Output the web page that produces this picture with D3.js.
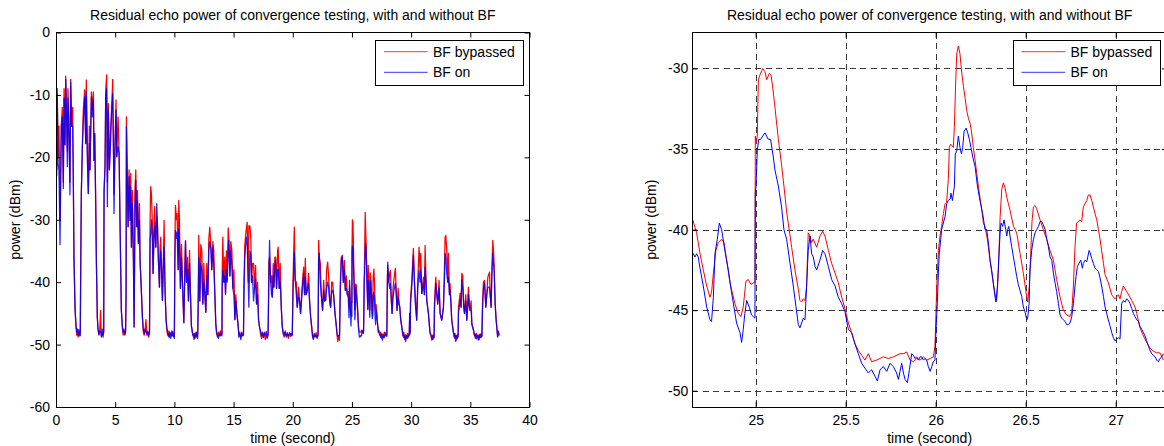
<!DOCTYPE html>
<meta charset="utf-8">
<head>
<title>Residual echo power of convergence testing</title>
<script src="https://d3js.org/d3.v7.min.js"></script>
<style>
  body { margin: 0; background: #ffffff; }
  text { font-family: "Liberation Sans", Arial, Helvetica, sans-serif; }
</style>
</head>
<body>
<svg width="1164" height="446"></svg>
<script>

// ---------- data ----------
var titleText = "Residual echo power of convergence testing, with and without BF";
var seriesNames = ["BF bypassed", "BF on"];
var xLabel = "time (second)";
var yLabel = "power (dBm)";

var leftXTicks = [0, 5, 10, 15, 20, 25, 30, 35, 40];
var leftYTicks = [0, -10, -20, -30, -40, -50, -60];
var rightXTicks = [25, 25.5, 26, 26.5, 27];
var rightYTicks = [-30, -35, -40, -45, -50];

// whole recording, one line per burst / quiet gap
var leftTime = [
  0, 0.03, 0.06, 0.11, 0.17, 0.25, 0.34, 0.45, 0.53, 0.62, 0.68, 0.76, 0.82, 0.90, 0.96, 1.01, 1.10, 1.18, 1.24, 1.32, 1.41, 1.47, 1.52, 1.61, 1.69,
  1.75, 1.81, 1.87, 1.93, 1.99, 2.05,
  2.09, 2.14, 2.23, 2.31, 2.42, 2.51, 2.56, 2.65, 2.73, 2.82, 2.87, 2.99, 3.07, 3.16, 3.21, 3.27, 3.35, 3.41, 3.49,
  3.55, 3.62, 3.69, 3.77, 3.83, 3.90, 3.97, 4.03,
  4.06, 4.14, 4.20, 4.28, 4.34, 4.42, 4.51, 4.62, 4.71, 4.79, 4.85, 4.90, 4.99, 5.07, 5.13, 5.24, 5.33, 5.41, 5.52, 5.61,
  5.67, 5.74, 5.81, 5.88,
  5.92, 5.95, 6.00, 6.09, 6.17, 6.26, 6.31, 6.37, 6.45, 6.54, 6.60, 6.68, 6.74, 6.82, 6.88, 6.96, 7.05, 7.10, 7.22, 7.30,
  7.38, 7.45, 7.52, 7.60, 7.68, 7.75, 7.82, 7.90,
  7.95, 8.00, 8.06, 8.15, 8.20, 8.29, 8.34, 8.43, 8.51, 8.57, 8.65, 8.74, 8.79, 8.85, 8.91, 8.99, 9.08, 9.13, 9.22, 9.30,
  9.38, 9.46, 9.54, 9.62, 9.70, 9.78, 9.86, 9.94, 10.00,
  10.04, 10.09, 10.18, 10.23, 10.32, 10.37, 10.43, 10.51, 10.60, 10.68, 10.80, 10.88, 10.94, 11.02, 11.11, 11.19, 11.28, 11.36, 11.44,
  11.50, 11.58, 11.66, 11.74, 11.82, 11.90, 11.97,
  12.01, 12.06, 12.15, 12.23, 12.32, 12.40, 12.49, 12.57, 12.66, 12.74, 12.83, 12.91, 12.99, 13.08, 13.16, 13.25, 13.33, 13.42, 13.50,
  13.56, 13.64, 13.72, 13.80, 13.88, 13.96, 14.02,
  14.04, 14.09, 14.18, 14.26, 14.32, 14.40, 14.46, 14.55, 14.60, 14.69, 14.77, 14.86, 14.94, 15.03, 15.11, 15.19, 15.28, 15.39,
  15.45, 15.53, 15.61, 15.69, 15.77, 15.84,
  15.87, 15.95, 16.07, 16.15, 16.24, 16.29, 16.38, 16.46, 16.52, 16.60, 16.69, 16.77, 16.86, 16.94, 17.03, 17.11, 17.20,
  17.28, 17.36, 17.44, 17.52, 17.60, 17.68, 17.76, 17.84, 17.92,
  17.98, 18.04, 18.13, 18.21, 18.27, 18.35, 18.41, 18.49, 18.55, 18.63, 18.72, 18.77, 18.86, 18.94, 19.03, 19.11,
  19.18, 19.27, 19.36, 19.45, 19.54, 19.63, 19.72, 19.81, 19.90, 19.96,
  20.02, 20.13, 20.21, 20.30, 20.38, 20.49, 20.58, 20.66, 20.78, 20.92, 21.00, 21.06, 21.14, 21.23, 21.34, 21.42, 21.51, 21.59,
  21.66, 21.74, 21.82, 21.90, 21.98, 22.06, 22.14,
  22.19, 22.24, 22.33, 22.41, 22.52, 22.61, 22.69, 22.78, 22.86, 22.95, 23.03, 23.12, 23.20, 23.29, 23.37, 23.45, 23.57, 23.68,
  23.74, 23.81, 23.88, 23.95,
  24.02, 24.10, 24.19, 24.27, 24.36, 24.44, 24.53, 24.61, 24.69, 24.75, 24.80, 24.86, 24.92, 24.96, 24.995, 25.01, 25.04, 25.09, 25.13, 25.18, 25.25, 25.28, 25.30, 25.36, 25.42, 25.48, 25.53, 25.57,
  25.63, 25.69, 25.75, 25.81, 25.87, 25.93, 25.98,
  26.01, 26.04, 26.08, 26.12, 26.16, 26.20, 26.25, 26.30, 26.34, 26.37, 26.42, 26.47, 26.51, 26.55, 26.60, 26.66, 26.72, 26.76, 26.79, 26.85, 26.90, 26.96, 27.00, 27.04, 27.10, 27.16, 27.22, 27.27,
  27.34, 27.42, 27.50, 27.58, 27.66, 27.74, 27.82, 27.90, 27.95,
  27.99, 28.02, 28.11, 28.19, 28.25, 28.33, 28.39, 28.47, 28.58, 28.67, 28.75, 28.81, 28.90, 28.95, 29.04, 29.12, 29.23,
  29.30, 29.38, 29.46, 29.54, 29.62, 29.70, 29.77, 29.84, 29.88, 29.92,
  29.95, 30.05, 30.19, 30.28, 30.33, 30.47, 30.56, 30.67, 30.76, 30.81, 30.90, 31.04, 31.12, 31.18, 31.26, 31.32, 31.46, 31.60,
  31.67, 31.74, 31.81, 31.88, 31.94,
  31.97, 32.08, 32.17, 32.25, 32.36, 32.45, 32.59, 32.73, 32.81, 32.87, 32.93, 33.01, 33.10, 33.15, 33.24, 33.29, 33.38, 33.43, 33.57,
  33.63, 33.70, 33.77, 33.84, 33.91, 33.97,
  34.00, 34.14, 34.22, 34.28, 34.36, 34.45, 34.51, 34.62, 34.70, 34.79, 34.84, 34.93, 34.98, 35.07, 35.13, 35.27,
  35.35, 35.43, 35.51, 35.59, 35.67, 35.75, 35.83, 35.91, 35.98,
  36.03, 36.11, 36.20, 36.31, 36.39, 36.48, 36.62, 36.68, 36.76, 36.82, 36.90, 36.96, 37.01, 37.10, 37.18, 37.24,
  37.30, 37.36, 37.42, 37.45
];

var leftRed = [
  -57, -8, -22, -9, -20, -15, -30, -15, -12, -24, -9, -18, -7, -14, -19, -9, -16, -24, -7.5, -15, -12, -25, -36, -44, -47,
  -48.5, -47.8, -48.8, -48, -48.6, -48,
  -37, -25.8, -17.8, -12.4, -9.2, -17.8, -7.6, -19, -25.8, -15, -22, -9.5, -12.4, -9.5, -20.5, -16.2, -25.8, -36.5, -45.6,
  -47.5, -48.5, -48, -44.5, -48.8, -48, -48.5, -47.8,
  -25, -21.5, -9.2, -6.8, -24, -11.4, -22, -15.1, -11.9, -7.5, -17.8, -26, -17.8, -10.8, -19.9, -13.5, -19.4, -30.6, -44.5, -47.2,
  -48.5, -47.8, -48.5, -48,
  -42, -13.5, -20.5, -31.1, -22, -30.1, -22.6, -34.4, -25.3, -36.5, -47.2, -24.7, -22, -31.1, -25.3, -33.8, -27.4, -36.5, -41.8, -45.6,
  -48, -48.5, -47.8, -46, -48.5, -48, -48.8, -48.2,
  -30, -24.7, -25.8, -31.1, -38.6, -30.1, -27.9, -34.4, -29.5, -31.1, -36.5, -40.8, -34.4, -32.8, -37.6, -42.9, -35.4, -30.1, -41.8, -46.1,
  -48, -48.6, -47.8, -48.9, -48.2, -48.6, -47.9, -48.8, -48.3,
  -35, -27.7, -30, -29, -38, -26.9, -30, -41, -34, -40, -46.5, -38, -33.3, -40, -36, -43, -34.9, -42, -47,
  -48, -48.6, -48.2, -49, -48, -48.8, -48.3,
  -44, -32.5, -43, -34, -35, -43.5, -37, -42, -44.8, -37, -42, -33, -31.2, -34, -38, -33.5, -35, -42, -46.7,
  -48.2, -48.8, -48, -48.6, -47.8, -48.5, -48.2,
  -38.4, -32.8, -40, -36, -41.9, -35, -39.7, -31.3, -33, -39, -33.5, -35, -41, -38, -46, -42, -45, -47,
  -48.5, -48, -48.8, -48.2, -48.6, -48,
  -40.8, -34, -31.5, -30.4, -40, -31, -31, -33, -40, -37, -37, -41, -37.3, -43.5, -40, -46, -47.3,
  -48.3, -49, -48.2, -48.8, -48, -49.2, -48.4, -49, -48.5,
  -36.8, -36, -40, -39, -42.4, -37, -40.8, -36, -36, -41, -35, -34.4, -41, -37, -44, -47,
  -48.2, -48.8, -48, -48.6, -48.3, -49, -48.1, -48.7, -48.2, -48.5,
  -40, -31.2, -39.7, -40, -44, -40.8, -43, -45, -41, -37.6, -42, -36.2, -42, -41.3, -38.6, -43, -45.5, -47,
  -48.2, -49, -48.4, -48.8, -48.1, -48.9, -48.5,
  -33.3, -36, -37, -42, -44.5, -39.7, -43, -42.9, -38, -36.8, -39, -43, -44, -40, -40, -42, -45, -47,
  -48.5, -49.5, -48.8, -49.3,
  -40, -36, -35.7, -40, -36.5, -41.3, -39, -42, -41.5, -44, -40.6, -43.3, -45.4, -43.1, -43.3, -34.2, -30, -30.5, -34.5, -39.6, -44.4, -43.5, -40.3, -40.4, -42.1, -44.2, -46.4, -47.5,
  -48, -48, -48, -47.7, -48.2, -48, -47.9,
  -43.5, -39.2, -34.8, -28.8, -31.5, -34, -38.3, -41.8, -44.4, -37.3, -39, -41.5, -44.5, -38.5, -40, -42.3, -45.3, -44.5, -39.5, -37.9, -39.8, -43.5, -44.3, -43.6, -44.9, -46.7, -47.6, -48,
  -48.5, -48, -49, -48.3, -48.8, -48, -48.6, -48.2, -48.7,
  -40, -37.3, -40, -38.5, -38.1, -43, -45, -41, -39, -37.8, -42, -44.5, -41, -42.6, -44, -46, -47.4,
  -48.6, -48, -49.2, -48.4, -49, -48.2, -48.8, -48.3, -45, -48,
  -42.5, -40, -34.6, -40, -41.3, -46.1, -40, -34.4, -38, -35.4, -41.8, -39.2, -42, -34.1, -40, -42.9, -45, -48.2,
  -48.6, -49.3, -48.5, -49.1, -48.6,
  -43.5, -39.2, -42, -43.5, -39.7, -45, -46.1, -44, -38, -32.8, -32.5, -34.9, -40, -35.4, -42, -40.2, -44, -46.1, -48,
  -48.3, -49, -48.5, -49.2, -48.4, -48.8,
  -44, -41.8, -44, -38.6, -38.9, -44, -45, -42, -46.1, -43, -40.8, -44, -44.5, -43, -46.7, -47.7,
  -48.4, -49, -48.2, -48.8, -48.5, -49.2, -48.3, -48.9, -48.5,
  -43.5, -40, -39.7, -44, -42, -39.2, -38.4, -42, -44, -38, -33.3, -35, -37, -43.5, -46, -47.2,
  -48.5, -48, -48.6, -48.3
];

var leftBlue = [
  -55, -10, -23, -10, -21, -22, -34, -15, -13.5, -25, -10.5, -18, -7.5, -14, -21.5, -10.5, -17, -26, -8, -15, -15, -25, -36.5, -44.5, -47,
  -48, -47.5, -48.5, -47.6, -48.3, -48.6,
  -38, -25.8, -18.3, -14, -10.3, -17.8, -9.5, -20.5, -25.8, -17.8, -22, -10.3, -13.5, -10.8, -20.5, -16.2, -27.4, -36.5, -45.6,
  -47.5, -48.3, -47.8, -48, -48.6, -47.5, -48.8, -48,
  -26, -21.5, -10.3, -9, -27.9, -12.4, -22, -17.2, -11.9, -9.8, -17.8, -29, -17.8, -12.4, -19.9, -18.3, -19.4, -30.6, -44.5, -47.2,
  -48, -47.5, -48.3, -47.8,
  -42, -15.1, -20.5, -31.1, -23.1, -30.1, -24.7, -34.4, -27.4, -36.5, -47.2, -26.9, -23.7, -31.1, -26.9, -33.8, -30.1, -36.5, -41.8, -45.6,
  -47.6, -48.2, -47.5, -48, -48.3, -47.8, -48.5, -48,
  -33, -32.2, -30, -33.8, -38.6, -32.2, -31, -34.4, -27.4, -30.6, -36.5, -40.8, -36.5, -35, -37.6, -42.9, -36.5, -34.4, -41.8, -46.1,
  -47.5, -48.2, -48.8, -48, -49, -47.8, -48.6, -48.2, -49,
  -37, -31.7, -33, -32, -38, -31.5, -34, -41, -36, -40, -46.5, -39, -33.5, -40, -38, -43, -37, -42, -47,
  -47.6, -48.5, -49.2, -48.2, -48.8, -48, -49,
  -44, -36, -43, -37, -38, -43.5, -40, -42, -44.8, -39, -42, -35, -33.5, -34.5, -38, -34.5, -37.5, -42, -46.7,
  -47.8, -48.5, -49, -48.2, -48.6, -48, -48.6,
  -41, -38.1, -40, -39, -41.9, -38, -40, -35, -33.3, -39, -35, -37.5, -41, -42, -46, -43, -45, -47,
  -48.8, -48.3, -49.2, -48, -48.6, -48.4,
  -43, -36, -32.8, -34, -40, -44, -35, -35.5, -40, -39, -43, -41, -39.5, -43.5, -42, -46, -47.3,
  -47.8, -48.6, -48, -48.9, -48.2, -48.5, -47.9, -48.8, -48.2,
  -40, -33.3, -40, -42, -42.4, -39, -40.8, -37.5, -36.5, -41, -38, -38, -41, -40, -44, -47,
  -48, -48.5, -47.8, -48.8, -48.1, -48.6, -48.3, -48.2, -48.6, -48.4,
  -42, -35.2, -39.7, -42, -44, -42.4, -43, -45, -42, -38.6, -42, -39.2, -42, -41.3, -40.2, -43, -45.5, -47,
  -48.6, -49.2, -48.2, -48.7, -48.5, -49, -48.3,
  -36, -35.4, -40, -42, -44.5, -41.3, -43, -42.9, -41, -40, -40.8, -43, -44, -41.5, -41.3, -42, -45, -47,
  -48.2, -48.8, -48.5, -48.6,
  -41, -36.5, -36, -40, -38, -41.3, -41, -42, -42.4, -45.7, -39.7, -44, -47, -44.6, -45.5, -35, -34.2, -34.6, -37.5, -40.3, -46, -45, -40.8, -41.9, -43.1, -44.6, -46.4, -47.7,
  -48.8, -48.8, -48.5, -48.6, -47.7, -48, -48.2,
  -45, -40, -38.1, -35, -33.8, -34.6, -38.5, -41.9, -44.3, -39.7, -41.1, -43.8, -45.6, -40.2, -39.7, -43.3, -45.8, -45.3, -42.2, -41.6, -42.6, -45.8, -46.8, -44.4, -45.3, -46.5, -48, -47.7,
  -48.2, -48.8, -48.3, -49.3, -48.5, -48.9, -48.1, -48.6, -48.3,
  -41, -36.8, -40, -41, -40.2, -43, -45, -42.5, -41, -40.2, -42, -44.5, -42.5, -43.5, -44, -46, -47.4,
  -48.2, -48.9, -48.5, -49.5, -48.6, -49, -48.4, -48.6, -45, -48.3,
  -43.5, -41, -35.7, -40, -42.9, -46.1, -41, -38.1, -40, -38, -41.8, -40.2, -42, -37.6, -40, -42.9, -45, -48.2,
  -48.3, -48.8, -49.2, -48.5, -48.9,
  -44.5, -40.2, -42, -43.5, -41, -45, -46.1, -44, -40, -35.4, -36, -38.6, -40, -39.2, -42, -41.3, -44, -46.1, -48,
  -48.8, -48.2, -49.5, -48.6, -49, -48.3,
  -45, -42.9, -44, -39.7, -41, -44, -45, -43, -46.1, -44, -41.9, -44, -44.5, -44.5, -46.7, -47.7,
  -48.6, -48.3, -49.1, -48.5, -49.3, -48.4, -48.9, -48.3, -48.7,
  -44.5, -41, -40.2, -44, -42, -40.8, -40.8, -42, -44, -39, -35.4, -37, -38.1, -43.5, -46, -47.2,
  -48.8, -47.8, -48.3, -48.3
];

// zoomed window 24.65 s .. 27.3 s, [time, dBm]
var rightRed = [
  [24.648, -39.3], [24.672, -40.2], [24.691, -41.5], [24.709, -42.5], [24.728, -43.5], [24.746, -44.2], [24.755, -43.9],
  [24.765, -42.7], [24.779, -41.3], [24.792, -40.8], [24.811, -40.6], [24.824, -40.8], [24.839, -41.9], [24.857, -43.3],
  [24.885, -44.6], [24.903, -45.2], [24.918, -45.4], [24.931, -44.8], [24.946, -43.2], [24.959, -43.1], [24.974, -43.4],
  [24.987, -43.3], [24.996, -43.3], [24.998, -34.2], [25.002, -34.6], [25.009, -34.2], [25.015, -30.7], [25.024, -30.4],
  [25.039, -30.0], [25.052, -30.2], [25.061, -30.7], [25.076, -30.3], [25.085, -30.4], [25.094, -31.1], [25.107, -32.4],
  [25.126, -34.4], [25.144, -36.0], [25.157, -37.3], [25.172, -38.9], [25.181, -39.6], [25.200, -41.1], [25.218, -42.5],
  [25.237, -43.7], [25.246, -44.4], [25.255, -44.5], [25.265, -44.3], [25.274, -44.4], [25.283, -43.5], [25.292, -40.2],
  [25.302, -40.4], [25.311, -40.8], [25.320, -40.6], [25.339, -41.1], [25.357, -40.4], [25.372, -40.1], [25.385, -40.4],
  [25.404, -41.3], [25.422, -42.1], [25.441, -42.7], [25.459, -43.3], [25.478, -44.2], [25.496, -44.9], [25.515, -45.8],
  [25.533, -46.4], [25.552, -47.1], [25.570, -47.5], [25.589, -47.8], [25.607, -48.1], [25.626, -47.7], [25.644, -48.2],
  [25.672, -48.1], [25.691, -48.0], [25.709, -47.9], [25.737, -48.0], [25.765, -47.9], [25.802, -47.7], [25.821, -47.7],
  [25.839, -47.6], [25.858, -48.1], [25.876, -48.2], [25.895, -48.0], [25.913, -48.1], [25.932, -47.9], [25.950, -48.1],
  [25.969, -48.0], [25.987, -47.9], [25.996, -47.25], [26.006, -43.5], [26.015, -41.3], [26.024, -40.4], [26.033, -39.8],
  [26.043, -39.0], [26.052, -38.4], [26.061, -38.3], [26.070, -36.9], [26.076, -34.9], [26.083, -34.7], [26.091, -34.8],
  [26.098, -34.9], [26.104, -33.6], [26.111, -30.9], [26.117, -29.1], [26.126, -28.6], [26.135, -29.1], [26.145, -30.3],
  [26.154, -31.1], [26.163, -31.8], [26.172, -32.6], [26.182, -33.1], [26.191, -33.4], [26.200, -34.0], [26.209, -34.9],
  [26.219, -35.7], [26.228, -36.5], [26.237, -37.3], [26.246, -38.0], [26.256, -38.8], [26.265, -39.6], [26.274, -39.8],
  [26.287, -40.6], [26.302, -41.9], [26.317, -43.1], [26.330, -44.05], [26.339, -44.4], [26.348, -42.7], [26.358, -39.2],
  [26.367, -37.5], [26.376, -37.1], [26.385, -37.4], [26.395, -38.0], [26.404, -38.4], [26.413, -38.8], [26.432, -39.8],
  [26.441, -40.0], [26.450, -40.2], [26.469, -41.5], [26.487, -42.7], [26.502, -43.9], [26.511, -44.5], [26.520, -43.5],
  [26.528, -41.5], [26.535, -39.5], [26.543, -38.6], [26.552, -38.5], [26.561, -38.7], [26.580, -39.4], [26.598, -40.0],
  [26.617, -40.6], [26.635, -41.3], [26.654, -41.9], [26.672, -43.1], [26.691, -44.2], [26.709, -45.0], [26.728, -45.3],
  [26.746, -45.4], [26.756, -45.1], [26.765, -43.5], [26.774, -41.05], [26.783, -39.6], [26.802, -39.4], [26.811, -39.5],
  [26.820, -38.6], [26.839, -38.2], [26.848, -37.85], [26.857, -37.85], [26.867, -38.2], [26.876, -38.6], [26.885, -39.0],
  [26.895, -39.4], [26.904, -40.0], [26.913, -40.6], [26.922, -41.3], [26.932, -42.1], [26.941, -42.8], [26.959, -43.3],
  [26.978, -44.05], [26.996, -44.3], [27.015, -44.05], [27.024, -44.3], [27.033, -43.85], [27.043, -43.5], [27.061, -43.85],
  [27.080, -44.2], [27.089, -44.4], [27.107, -44.8], [27.117, -45.2], [27.135, -46.1], [27.154, -46.6], [27.172, -47.0],
  [27.191, -47.35], [27.209, -47.55], [27.228, -47.65], [27.246, -47.65], [27.265, -48.1]
];

var rightBlue = [
  [24.648, -41.4], [24.663, -41.7], [24.672, -41.5], [24.681, -41.7], [24.691, -42.4], [24.709, -43.5], [24.728, -44.8],
  [24.746, -45.6], [24.755, -45.7], [24.765, -44.2], [24.774, -41.5], [24.787, -40.6], [24.798, -39.6], [24.811, -40.0],
  [24.829, -41.3], [24.848, -42.5], [24.866, -43.9], [24.894, -45.8], [24.913, -46.4], [24.922, -47.0], [24.931, -46.2],
  [24.940, -45.2], [24.950, -44.4], [24.964, -44.8], [24.977, -45.3], [24.987, -45.4], [24.996, -45.5], [24.998, -37.75],
  [25.002, -37.3], [25.009, -35.1], [25.017, -34.4], [25.028, -34.4], [25.039, -34.2], [25.052, -34.0], [25.061, -34.2],
  [25.070, -34.4], [25.083, -34.4], [25.098, -35.5], [25.107, -36.3], [25.126, -37.3], [25.144, -38.6], [25.157, -40.0],
  [25.172, -40.6], [25.191, -42.1], [25.209, -43.5], [25.224, -44.8], [25.237, -45.9], [25.246, -46.1], [25.255, -45.8],
  [25.265, -45.5], [25.274, -45.6], [25.283, -43.5], [25.292, -41.3], [25.302, -40.4], [25.311, -41.5], [25.320, -41.7],
  [25.330, -42.3], [25.339, -42.5], [25.357, -41.9], [25.372, -41.3], [25.385, -41.5], [25.404, -42.3], [25.422, -43.1],
  [25.441, -43.5], [25.459, -44.2], [25.478, -44.6], [25.496, -45.1], [25.515, -46.2], [25.533, -46.4], [25.552, -47.1],
  [25.570, -47.7], [25.589, -48.3], [25.607, -48.6], [25.626, -48.9], [25.644, -48.7], [25.663, -49.1], [25.676, -49.4],
  [25.691, -48.7], [25.709, -48.5], [25.728, -48.8], [25.746, -48.3], [25.765, -48.5], [25.783, -48.9], [25.793, -49.3],
  [25.802, -48.8], [25.811, -48.3], [25.821, -48.9], [25.830, -49.3], [25.843, -49.5], [25.854, -48.7], [25.867, -47.7],
  [25.876, -47.8], [25.885, -48.0], [25.895, -47.9], [25.904, -48.1], [25.913, -47.9], [25.922, -47.9], [25.932, -48.1],
  [25.941, -48.0], [25.950, -48.1], [25.959, -48.5], [25.969, -48.8], [25.978, -48.5], [25.987, -48.2], [25.996, -48.1],
  [26.002, -46.2], [26.009, -44.6], [26.015, -42.7], [26.020, -41.5], [26.028, -40.6], [26.033, -40.0], [26.052, -39.2],
  [26.061, -38.4], [26.070, -38.2], [26.080, -38.1], [26.085, -37.75], [26.093, -38.2], [26.104, -37.3], [26.109, -35.3],
  [26.117, -35.1], [26.126, -34.2], [26.135, -34.9], [26.143, -35.3], [26.150, -34.9], [26.158, -33.9], [26.169, -33.7],
  [26.178, -34.0], [26.187, -34.4], [26.196, -34.9], [26.206, -35.5], [26.219, -36.1], [26.232, -37.3], [26.246, -38.2],
  [26.261, -39.0], [26.274, -40.0], [26.283, -40.0], [26.293, -40.8], [26.302, -41.9], [26.311, -42.5], [26.320, -43.3],
  [26.330, -44.2], [26.335, -44.5], [26.343, -43.5], [26.350, -41.9], [26.358, -40.2], [26.363, -39.6], [26.372, -39.8],
  [26.380, -39.4], [26.389, -40.0], [26.395, -40.4], [26.400, -40.0], [26.406, -39.8], [26.413, -40.4], [26.422, -41.05],
  [26.432, -41.7], [26.441, -42.3], [26.450, -42.9], [26.459, -43.4], [26.469, -43.8], [26.478, -44.15], [26.487, -44.8],
  [26.496, -45.1], [26.506, -45.6], [26.511, -45.5], [26.519, -44.6], [26.524, -42.5], [26.533, -41.3], [26.543, -40.6],
  [26.552, -40.2], [26.561, -40.0], [26.571, -39.8], [26.580, -39.5], [26.589, -39.5], [26.598, -39.7], [26.608, -40.0],
  [26.617, -40.6], [26.626, -41.05], [26.635, -41.7], [26.645, -41.9], [26.654, -42.7], [26.663, -43.3], [26.672, -43.85],
  [26.682, -44.6], [26.691, -45.3], [26.700, -45.5], [26.709, -45.6], [26.719, -45.7], [26.728, -45.9], [26.737, -45.9],
  [26.746, -45.8], [26.756, -45.4], [26.765, -44.6], [26.774, -43.5], [26.780, -42.9], [26.787, -42.3], [26.796, -42.1],
  [26.806, -41.9], [26.815, -42.4], [26.820, -42.1], [26.830, -41.9], [26.839, -42.0], [26.845, -41.7], [26.852, -41.3],
  [26.857, -41.4], [26.867, -41.8], [26.876, -42.1], [26.885, -42.4], [26.895, -42.5], [26.904, -42.6], [26.913, -43.0],
  [26.922, -43.5], [26.932, -44.15], [26.941, -44.8], [26.950, -45.2], [26.959, -45.6], [26.969, -46.0], [26.978, -46.4],
  [26.987, -46.7], [26.996, -46.9], [27.006, -46.8], [27.015, -46.7], [27.024, -46.8], [27.033, -44.6], [27.043, -44.4],
  [27.052, -44.5], [27.061, -44.3], [27.071, -44.4], [27.080, -44.6], [27.089, -44.9], [27.098, -45.2], [27.107, -45.4],
  [27.117, -45.6], [27.126, -45.7], [27.135, -46.0], [27.145, -46.2], [27.154, -46.4], [27.163, -46.6], [27.172, -46.9],
  [27.182, -47.25], [27.191, -47.5], [27.200, -47.7], [27.209, -47.8], [27.219, -47.9], [27.228, -48.1], [27.237, -48.2],
  [27.246, -48.0], [27.256, -47.9], [27.265, -47.7]
];

// ---------- drawing ----------
var svg = d3.select("svg");
var colors = ["#ff0000", "#0000ff"];
var fontSize = 14;

function drawPanel(p) {
  var x = d3.scaleLinear().domain(p.xDomain).range([p.left, p.right]);
  var y = d3.scaleLinear().domain(p.yDomain).range([p.bottom, p.top]);
  var g = svg.append("g");

  g.append("clipPath").attr("id", "clip-" + p.id)
    .append("rect")
    .attr("x", p.left).attr("y", p.top)
    .attr("width", p.right - p.left).attr("height", p.bottom - p.top);

  // dashed grid (right panel only)
  if (p.grid) {
    var grid = g.append("g")
      .attr("stroke", "#3a3a3a")
      .attr("stroke-width", 1)
      .attr("stroke-dasharray", "6,4.5")
      .attr("shape-rendering", "crispEdges");
    grid.selectAll("line.gx").data(p.xTicks).enter().append("line")
      .attr("x1", function(d) { return Math.round(x(d)) + 0.5; })
      .attr("x2", function(d) { return Math.round(x(d)) + 0.5; })
      .attr("y1", p.top).attr("y2", p.bottom);
    grid.selectAll("line.gy").data(p.yTicks).enter().append("line")
      .attr("y1", function(d) { return Math.round(y(d)) + 0.5; })
      .attr("y2", function(d) { return Math.round(y(d)) + 0.5; })
      .attr("x1", p.left).attr("x2", p.right);
  }

  // data
  var line = d3.line()
    .x(function(d) { return x(d[0]); })
    .y(function(d) { return y(d[1]); });

  var lines = g.append("g").attr("clip-path", "url(#clip-" + p.id + ")");
  p.series.forEach(function(s, i) {
    lines.append("path")
      .datum(s)
      .attr("fill", "none")
      .attr("stroke", colors[i])
      .attr("stroke-width", p.lineWidth)
      .attr("stroke-opacity", i == 1 ? p.blueOpacity : 1)
      .attr("stroke-linejoin", "round")
      .attr("d", line);
  });

  // axes, ticks pointing inwards on all four sides
  var fmt = function(d) { return String(d); };
  var axB = g.append("g").attr("transform", "translate(0," + p.bottom + ")")
    .call(d3.axisBottom(x).tickValues(p.xTicks).tickFormat(fmt).tickSizeInner(-5).tickSizeOuter(0).tickPadding(8));
  var axL = g.append("g").attr("transform", "translate(" + p.left + ",0)")
    .call(d3.axisLeft(y).tickValues(p.yTicks).tickFormat(fmt).tickSizeInner(-5).tickSizeOuter(0).tickPadding(p.yPad));
  var axT = g.append("g").attr("transform", "translate(0," + p.top + ")")
    .call(d3.axisTop(x).tickValues(p.xTicks).tickFormat("").tickSizeInner(-5).tickSizeOuter(0));
  var axR = g.append("g").attr("transform", "translate(" + p.right + ",0)")
    .call(d3.axisRight(y).tickValues(p.yTicks).tickFormat("").tickSizeInner(-5).tickSizeOuter(0));

  [axB, axL, axT, axR].forEach(function(a) {
    a.select(".domain").remove();
    a.attr("font-size", fontSize).attr("font-family", null);
    a.selectAll("text").attr("fill", "#000");
  });

  // box
  g.append("rect")
    .attr("x", p.left).attr("y", p.top)
    .attr("width", p.right - p.left).attr("height", p.bottom - p.top)
    .attr("fill", "none").attr("stroke", "#000").attr("stroke-width", 1)
    .attr("shape-rendering", "crispEdges");

  // texts
  g.append("text")
    .attr("x", (p.left + p.right) / 2).attr("y", 20)
    .attr("text-anchor", "middle").attr("font-size", fontSize)
    .text(titleText);

  g.append("text")
    .attr("x", (p.left + p.right) / 2).attr("y", p.bottom + 35.5)
    .attr("text-anchor", "middle").attr("font-size", fontSize)
    .text(xLabel);

  g.append("text")
    .attr("transform", "translate(" + (p.left - 36.5) + "," + ((p.top + p.bottom) / 2) + ") rotate(-90)")
    .attr("text-anchor", "middle").attr("font-size", fontSize)
    .text(yLabel);

  // legend
  var lw = 147.6, lh = 45.7;
  var lx = p.right - 6.2 - lw, ly = 40;
  var legend = g.append("g");
  legend.append("rect")
    .attr("x", lx).attr("y", ly).attr("width", lw).attr("height", lh)
    .attr("fill", "#fff").attr("stroke", "#000").attr("stroke-width", 1)
    .attr("shape-rendering", "crispEdges");
  var item = legend.selectAll("g.item").data(seriesNames).enter().append("g")
    .attr("transform", function(d, i) { return "translate(" + lx + "," + (ly + 11.7 + i * 20.6) + ")"; });
  item.append("line")
    .attr("x1", 8.3).attr("x2", 52).attr("y1", 0).attr("y2", 0)
    .attr("stroke", function(d, i) { return colors[i]; })
    .attr("stroke-width", 1).attr("stroke-opacity", 0.8);
  item.append("text")
    .attr("x", 57.3).attr("y", 5).attr("font-size", fontSize)
    .text(function(d) { return d; });
}

drawPanel({
  id: "all",
  left: 56, right: 529.5, top: 32.5, bottom: 407,
  xDomain: [0, 40], yDomain: [-60, 0],
  xTicks: leftXTicks, yTicks: leftYTicks, yPad: 6,
  grid: false, lineWidth: 1.25, blueOpacity: 0.85,
  series: [d3.zip(leftTime, leftRed), d3.zip(leftTime, leftBlue)]
});

drawPanel({
  id: "zoom",
  left: 692.3, right: 1167, top: 32.5, bottom: 407,
  xDomain: [24.648, 27.285], yDomain: [-51.01, -27.77],
  xTicks: rightXTicks, yTicks: rightYTicks, yPad: 4,
  grid: true, lineWidth: 1, blueOpacity: 1,
  series: [rightRed, rightBlue]
});

</script>
</body>
